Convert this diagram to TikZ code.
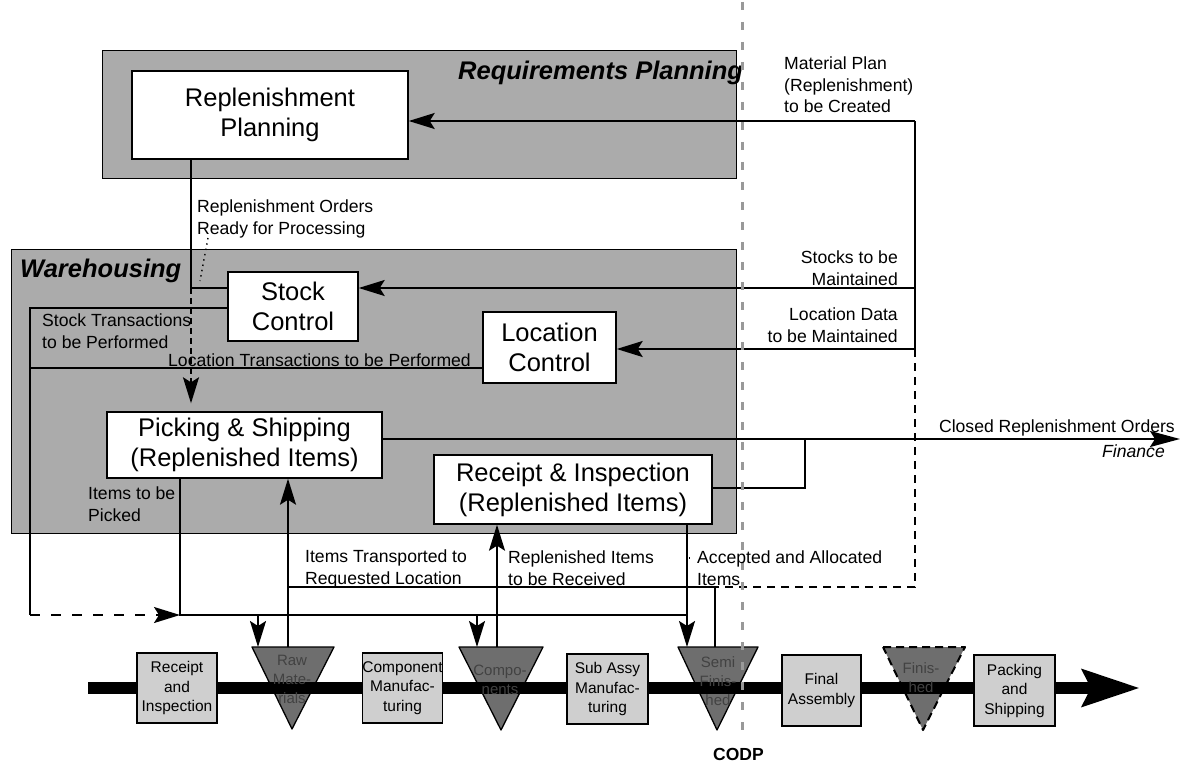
\documentclass[tikz,border=0pt]{standalone}
\usepackage{fontspec}
\setmainfont{Liberation Sans}
\usetikzlibrary{arrows.meta}
\definecolor{grpgray}{gray}{0.67}
\definecolor{procgray}{gray}{0.81}
\definecolor{trigray}{gray}{0.43}
\definecolor{tritext}{gray}{0.26}
\definecolor{codpgray}{gray}{0.6}

\begin{document}
\begin{tikzpicture}[x=1pt,y=-1pt,
  groupbox/.style={draw=black,line width=1.4pt,fill=grpgray,inner sep=0pt,anchor=north west},
  whitebox/.style={draw=black,line width=1.4pt,fill=white,align=center,inner sep=0pt,
    font=\fontsize{25.5}{30}\selectfont},
  procbox/.style={draw=black,line width=1.2pt,fill=procgray,align=center,inner sep=0pt,
    font=\fontsize{15.5}{19.5}\selectfont},
  tri/.style={fill=trigray,draw=black,line width=1.3pt,line join=round},
  tritxt/.style={text=tritext,align=center,inner sep=0pt,font=\fontsize{15}{19}\selectfont},
  lbl/.style={inner sep=0pt,align=left,anchor=base west,font=\fontsize{17.6}{21.5}\selectfont},
  lblr/.style={inner sep=0pt,align=right,anchor=base east,font=\fontsize{17.6}{21.5}\selectfont},
  ttl/.style={inner sep=0pt,anchor=base west,font=\fontsize{25.5}{30}\selectfont\bfseries\itshape},
  flow/.style={line width=1.8pt},
  arr/.style={flow,-{Stealth[length=26pt,width=16pt,inset=5pt]}},
  dashright/.style={dash pattern=on 8pt off 6pt},
  dashleft/.style={dash pattern=on 10pt off 11pt},
  dashord/.style={dash pattern=on 6pt off 4pt},
  leader/.style={line width=1.4pt,dash pattern=on 1.4pt off 4pt},
  codpline/.style={draw=codpgray,line width=3pt,dash pattern=on 8pt off 12pt}
]
\useasboundingbox[fill=white] (0,0) rectangle (1190,762);

% ---- functional areas
\node[groupbox,minimum width=634pt,minimum height=128pt] (reqp) at (102,50) {};
\node[groupbox,minimum width=725pt,minimum height=284pt] (wh) at (11,249) {};
\node[ttl] (reqt) at (458,80) {Requirements Planning};
\node[ttl] (wht) at (20,277) {Warehousing};

% ---- functions
\node[whitebox,minimum width=276pt,minimum height=88pt] (plan) at (270,115) {Replenishment\\Planning};
\node[whitebox,minimum width=130pt,minimum height=69pt] (stock) at (293,306.5) {Stock\\Control};
\node[whitebox,minimum width=133pt,minimum height=71pt] (loc) at (549.5,347.5) {Location\\Control};
\node[whitebox,minimum width=275pt,minimum height=66pt] (pick) at (244.5,445) {Picking \& Shipping\\(Replenished Items)};
\node[whitebox,minimum width=278pt,minimum height=69pt] (recv) at (573,489.5) {Receipt \& Inspection\\(Replenished Items)};

% ---- stock points on the material flow
\path[tri] (252,647) -- (334,647) -- (292,729) -- cycle;
\path[tri] (459,647) -- (543,647) -- (501,730) -- cycle;
\path[tri] (678,647) -- (758,647) -- (717,730) -- cycle;
\path[tri,dash pattern=on 8pt off 5pt,line width=2pt] (883,647) -- (965,647) -- (923,730) -- cycle;
\coordinate (rawT) at (292,647);
\coordinate (compT) at (501,647);
\coordinate (semiT) at (717,647);

% ---- material flow band
\coordinate (bandS) at (88,688);
\coordinate (bandE) at (1140,688);
\draw[line width=12pt,-{Stealth[length=57pt,width=36pt,inset=8pt]}] (bandS) -- (bandE);

\node[procbox,minimum width=80pt,minimum height=70pt] (rcv) at (177,688) {Receipt\\and\\Inspection};
\node[procbox,minimum width=80pt,minimum height=70pt] (cmf) at (402.5,688) {Component\\Manufac-\\turing};
\node[procbox,minimum width=81pt,minimum height=70pt] (sam) at (607.5,689) {Sub Assy\\Manufac-\\turing};
\node[procbox,minimum width=79pt,minimum height=71pt] (fas) at (821.5,690.5) {Final\\Assembly};
\node[procbox,minimum width=81pt,minimum height=71pt] (pks) at (1014.5,690.5) {Packing\\and\\Shipping};

\node[tritxt] (raw) at (292,679) {Raw\\Mate-\\rials};
\node[tritxt] (comp) at (500,680) {Compo-\\nents};
\node[tritxt] (semi) at (718,681) {Semi\\Finis-\\hed};
\node[tritxt] (fin) at (921,678) {Finis-\\hed};

% ---- planning inputs from the right
\coordinate (mpIn) at (915,121);
\coordinate (stIn) at (915,288);
\coordinate (lcIn) at (915,349);
\coordinate (dashC) at (915,587);
\coordinate (accJ) at (715,587);
\draw[arr] (mpIn) -- (mpIn -| plan.east);
\draw[arr] (stIn) -- (stIn -| stock.east);
\draw[arr] (lcIn) -- (lcIn -| loc.east);
\draw[flow] (mpIn) -- (lcIn);
\draw[flow,dashright] (lcIn) -- (dashC) -- (accJ);

% ---- replenishment orders
\coordinate (ordJ) at (191,288);
\draw[flow] (plan.south -| ordJ) -- (ordJ) -- (ordJ -| stock.west);
\draw[arr,dashord,shorten >=8pt] (ordJ) -- (ordJ |- pick.north);
\draw[leader] (208,238) -- (200,281);

% ---- stock and location transactions
\coordinate (lTop) at (30,308);
\coordinate (lLoc) at (30,368);
\coordinate (lBot) at (30,615);
\coordinate (pickJ) at (180,615);
\draw[flow] (lTop -| stock.west) -- (lTop) -- (lBot);
\draw[flow] (lLoc -| loc.west) -- (lLoc);
\draw[arr,dashleft] (lBot) -- (pickJ);

% ---- items to be picked
\coordinate (semiJ) at (687,615);
\coordinate (rawDn) at (258,615);
\coordinate (compDn) at (477,615);
\draw[flow] (pick.south -| pickJ) -- (pickJ) -- (semiJ);
\draw[flow] (recv.south -| semiJ) -- (semiJ);
\draw[arr] (semiJ) -- (semiJ |- semiT);
\draw[arr] (rawDn) -- (rawDn |- rawT);
\draw[arr] (compDn) -- (compDn |- compT);

% ---- items moved back into the warehouse
\coordinate (rawUp) at (288,587);
\coordinate (compUp) at (497,647);
\draw[arr] (rawUp |- rawT) -- (rawUp |- pick.south);
\draw[arr] (compUp) -- (compUp |- recv.south);
\draw[flow] (accJ |- semiT) -- (accJ) -- (rawUp);
\draw[leader] (689,558) -- (694,558);

% ---- closed orders to finance
\coordinate (clE) at (1180,439);
\coordinate (rcJ) at (805,488);
\draw[flow,-{Stealth[length=30pt,width=16pt,inset=5pt]}] (clE -| pick.east) -- (clE);
\draw[flow] (rcJ -| recv.east) -- (rcJ) -- (rcJ |- clE);

% ---- decoupling point
\coordinate (codpT) at (742,2);
\coordinate (codpB) at (742,735);
\draw[codpline] (codpT) -- (codpB);

% ---- labels (base anchor = baseline of the last line)
\node[lbl] (lOrd) at (197,234) {Replenishment Orders\\Ready for Processing};
\node[lbl] (lMat) at (784,113) {Material Plan\\(Replenishment)\\to be Created};
\node[lblr] (lStk) at (898,285) {Stocks to be\\Maintained};
\node[lblr] (lLcd) at (898,342) {Location Data\\to be Maintained};
\node[lbl] (lStT) at (42,348) {Stock Transactions\\to be Performed};
\node[lbl] (lLcT) at (168,366) {Location Transactions to be Performed};
\node[lbl] (lPk) at (88,521) {Items to be\\Picked};
\node[lbl] (lTr) at (305,584) {Items Transported to\\Requested Location};
\node[lbl] (lRi) at (508,585) {Replenished Items\\to be Received};
\node[lbl] (lAc) at (697,585) {Accepted and Allocated\\Items};
\node[lblr] (lCl) at (1175,432) {Closed Replenishment Orders};
\node[lbl,font=\fontsize{17.6}{21.5}\selectfont\itshape] (lFin) at (1102,457) {Finance};
\node[lbl,font=\fontsize{17.5}{21}\selectfont\bfseries] (lCodp) at (713,760) {CODP};
\end{tikzpicture}
\end{document}
